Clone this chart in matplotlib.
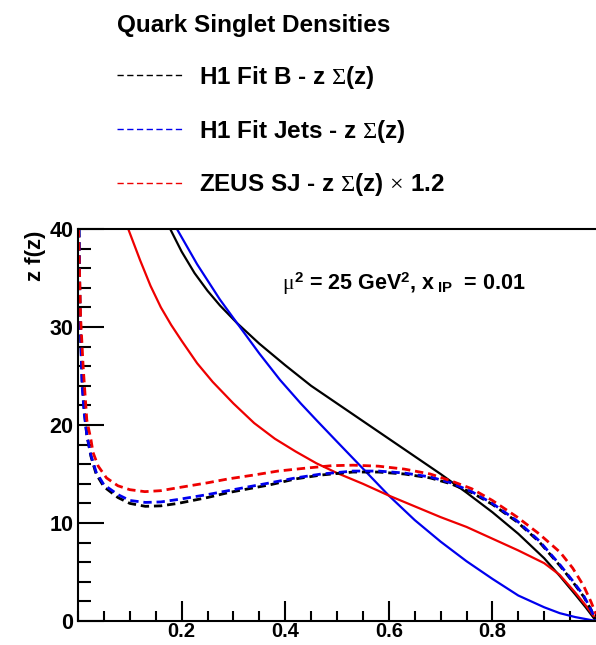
"""
Quark singlet densities z*Sigma(z) and gluon densities at mu^2 = 25 GeV^2
"""
import matplotlib
matplotlib.use("Agg")
import matplotlib.pyplot as plt
from matplotlib.lines import Line2D
from matplotlib.ticker import MultipleLocator, FixedLocator

plt.rcParams["font.family"] = ["Liberation Sans", "DejaVu Sans"]
plt.rcParams["font.weight"] = "bold"
plt.rcParams["mathtext.fontset"] = "custom"
plt.rcParams["mathtext.rm"] = "Liberation Serif:weight=normal"
plt.rcParams["mathtext.it"] = "Liberation Serif:weight=normal"
plt.rcParams["mathtext.sf"] = "Liberation Sans:weight=bold"
plt.rcParams["mathtext.bf"] = "Liberation Sans:weight=bold"
plt.rcParams["lines.scale_dashes"] = False

# solid curves
h1b_x = [0.178, 0.20, 0.225, 0.25, 0.274, 0.307, 0.35, 0.40, 0.45, 0.50, 0.55,
         0.60, 0.65, 0.70, 0.75, 0.80, 0.85, 0.90, 0.93, 0.96, 0.98, 1.0]
h1b_y = [40.0, 37.7, 35.5, 33.7, 32.2, 30.4, 28.3, 26.1, 24.0, 22.2, 20.4,
         18.6, 16.8, 15.0, 13.1, 11.1, 8.9, 6.4, 4.6, 2.7, 1.4, 0.0]

jets_x = [0.191, 0.23, 0.274, 0.307, 0.35, 0.39, 0.43, 0.462, 0.50, 0.551, 0.60,
          0.65, 0.70, 0.75, 0.80, 0.85, 0.90, 0.93, 0.96, 1.0]
jets_y = [40.0, 36.4, 32.8, 30.4, 27.3, 24.6, 22.2, 20.4, 18.3, 15.5, 12.8,
          10.3, 8.1, 6.1, 4.3, 2.6, 1.4, 0.8, 0.4, 0.0]

zeus_x = [0.097, 0.12, 0.14, 0.16, 0.18, 0.20, 0.23, 0.26, 0.30, 0.34, 0.38, 0.42,
          0.46, 0.50, 0.55, 0.60, 0.65, 0.70, 0.75, 0.80, 0.85, 0.90, 0.93, 0.96,
          0.98, 1.0]
zeus_y = [40.0, 36.8, 34.2, 32.0, 30.2, 28.6, 26.3, 24.4, 22.2, 20.2, 18.6, 17.3,
          16.1, 15.1, 14.0, 12.8, 11.7, 10.6, 9.6, 8.4, 7.2, 5.9, 4.7, 2.9,
          1.6, 0.2]

# dashed curves: z Sigma(z)
sig_b_x = [0.002, 0.004, 0.008, 0.012, 0.017, 0.025, 0.035, 0.05, 0.077, 0.10,
           0.13, 0.16, 0.193, 0.25, 0.29, 0.33, 0.371, 0.42, 0.47, 0.531, 0.58,
           0.63, 0.68, 0.72, 0.76, 0.80, 0.848, 0.89, 0.931, 0.955, 0.976, 0.99, 1.0]
sig_b_y = [40.0, 31.0, 24.5, 21.5, 19.0, 16.8, 15.0, 13.7, 12.6, 12.0,
           11.7, 11.75, 12.0, 12.6, 13.1, 13.5, 13.9, 14.5, 14.9, 15.2, 15.2,
           15.0, 14.6, 14.0, 13.1, 11.9, 10.1, 8.1, 5.6, 4.0, 2.5, 1.2, 0.0]

sig_jets_x = sig_b_x
sig_jets_y = [40.0, 31.0, 24.0, 21.2, 19.0, 16.9, 15.2, 13.9, 12.9, 12.3,
              12.1, 12.15, 12.4, 12.9, 13.3, 13.7, 14.1, 14.6, 15.0, 15.3, 15.3,
              15.1, 14.7, 14.1, 13.2, 12.0, 10.2, 8.2, 5.7, 4.1, 2.6, 1.2, 0.0]

sig_zeus_x = [0.001, 0.005, 0.010, 0.017, 0.025, 0.029, 0.039, 0.055, 0.077, 0.10,
              0.129, 0.16, 0.193, 0.25, 0.29, 0.34, 0.386, 0.44, 0.49, 0.531, 0.58,
              0.63, 0.68, 0.72, 0.76, 0.80, 0.848, 0.89, 0.931, 0.955, 0.976, 0.99, 1.0]
sig_zeus_y = [40.0, 31.0, 25.9, 20.5, 18.5, 17.2, 15.8, 14.6, 13.8, 13.4,
              13.2, 13.3, 13.6, 14.1, 14.5, 14.9, 15.3, 15.6, 15.85, 15.9, 15.8,
              15.5, 15.0, 14.3, 13.5, 12.3, 10.6, 8.9, 7.0, 5.4, 3.6, 2.0, 0.7]

labels = [r"H1 Fit B - z $\Sigma$(z)",
          r"H1 Fit Jets - z $\Sigma$(z)",
          r"ZEUS SJ - z $\Sigma$(z) $\times$ 1.2"]
colors = ["black", "#0000ee", "#ee0000"]

W, H = 596, 645
fig = plt.figure(figsize=(W / 100, H / 100), dpi=100)
ax = fig.add_axes([78 / W, 24 / H, 518 / W, 392 / H])

ax.plot(h1b_x, h1b_y, color=colors[0], lw=1.6)
ax.plot(jets_x, jets_y, color=colors[1], lw=1.6)
ax.plot(zeus_x, zeus_y, color=colors[2], lw=1.6)

dash = (6, 3.5)
ax.plot(sig_b_x, sig_b_y, color=colors[0], lw=2, dashes=dash)
ax.plot(sig_jets_x, sig_jets_y, color=colors[1], lw=2, dashes=dash)
ax.plot(sig_zeus_x, sig_zeus_y, color=colors[2], lw=2, dashes=dash)

ax.set_xlim(0, 1)
ax.set_ylim(0, 40)

ax.spines["right"].set_visible(False)
for s in ["left", "bottom", "top"]:
    ax.spines[s].set_linewidth(1.5)

ax.xaxis.set_major_locator(FixedLocator([0.2, 0.4, 0.6, 0.8]))
ax.xaxis.set_minor_locator(MultipleLocator(0.05))
ax.yaxis.set_major_locator(MultipleLocator(10))
ax.yaxis.set_minor_locator(MultipleLocator(2))
ax.tick_params(axis="x", which="major", direction="in", length=14.5, width=1.5,
               labelsize=14.5, pad=1)
ax.tick_params(axis="x", which="minor", direction="in", length=7, width=1.5)
ax.tick_params(axis="y", which="major", direction="in", length=19, width=1.5,
               labelsize=15.5, pad=3.5)
ax.tick_params(axis="y", which="minor", direction="in", length=9.5, width=1.5)
for lab in ax.get_xticklabels() + ax.get_yticklabels():
    lab.set_fontweight("bold")

fig.text(35 / W, 1 - 256 / H, "z f(z)", rotation=90, ha="center", va="center",
         fontsize=16, fontweight="bold")

ax.text(0.394, 33.8,
        r"$\mu^{\mathsf{2}}$ = 25 GeV$^{\mathsf{2}}$, x$_{\ \mathsf{IP}}\ $ = 0.01",
        fontsize=15.5, fontweight="bold", ha="left", va="baseline")

handles = [Line2D([], [], color=c, lw=1.0, dashes=(4.5, 2.5)) for c in colors]
leg = fig.legend(handles, labels, loc="upper left",
                 bbox_to_anchor=(105 / W, 1 - 2 / H), frameon=False,
                 title="Quark Singlet Densities", alignment="left",
                 prop={"size": 17.5, "weight": "bold"}, title_fontsize=17.5,
                 handlelength=2.7, handletextpad=0.66, labelspacing=1.1,
                 borderpad=0)
leg.get_title().set_fontweight("bold")

fig.savefig("out.png", dpi=100)
